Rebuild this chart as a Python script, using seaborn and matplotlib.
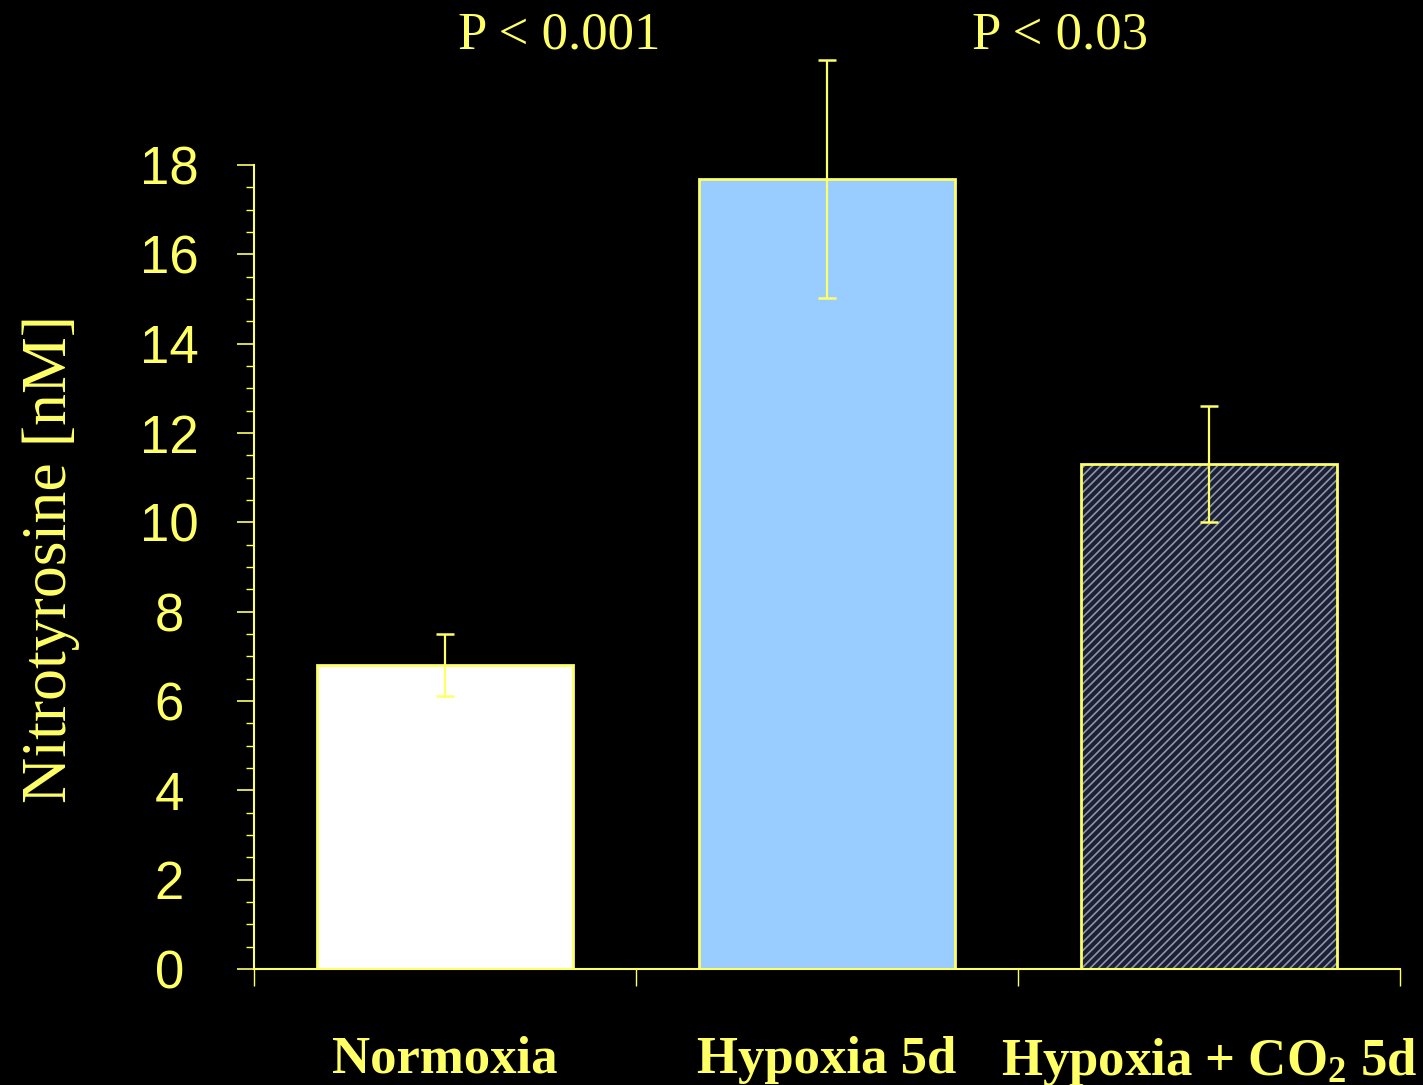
import matplotlib
matplotlib.use("Agg")
import matplotlib.pyplot as plt
import seaborn as sns
import numpy as np
import pandas as pd
from matplotlib.ticker import MultipleLocator, FixedLocator

categories = ["Normoxia", "Hypoxia 5d", "Hypoxia + CO$_2$ 5d"]
values = [6.81, 17.69, 11.31]
errors = [0.70, 2.67, 1.30]
bar_colors = ["#FFFFFF", "#99CCFF", "#1C2034"]
p_labels = ["P < 0.001", "P < 0.03"]
p_x = [0.30, 1.61]
p_y = [20.9, 20.9]
y_ticks = [0, 2, 4, 6, 8, 10, 12, 14, 16, 18]

YEL = "#FFFF66"

sns.set_style("dark")
plt.rcParams.update({
    "font.family": ["Liberation Sans", "DejaVu Sans"],
    "mathtext.fontset": "custom",
    "mathtext.rm": "Liberation Serif:bold",
    "mathtext.it": "Liberation Serif:bold",
    "mathtext.bf": "Liberation Serif:bold",
    "mathtext.default": "rm",
    "hatch.linewidth": 1.2,
})

fig = plt.figure(figsize=(14.23, 10.85), dpi=100, facecolor="black")
ax = fig.add_axes([0.1785, 0.1069, 0.8053, 0.7410])
ax.set_facecolor("black")

df = pd.DataFrame({"cat": categories, "val": values})
sns.barplot(data=df, x="cat", y="val", hue="cat", palette=bar_colors,
            saturation=1, legend=False, width=0.67, edgecolor="#8E96AC",
            linewidth=0, ax=ax, zorder=2)
# hatch on the third bar
p3 = ax.patches[2]
p3.set_hatch("////")
p3.set_edgecolor("#8E96AC")
p3.set_linewidth(0)

# yellow outlines drawn from the same data
xs = np.arange(len(categories))
ax.bar(xs, values, width=0.67, fill=False, edgecolor=YEL, linewidth=2.0, zorder=3)

ax.errorbar(xs, values, yerr=errors, fmt="none", ecolor=YEL, elinewidth=1.6,
            capsize=6.5, capthick=1.8, zorder=4, clip_on=False)

ax.set_xlim(-0.5, 2.5)
ax.set_ylim(0, 18)
ax.set_yticks(y_ticks)
ax.yaxis.set_minor_locator(MultipleLocator(0.5))
ax.xaxis.set_minor_locator(FixedLocator([-0.5, 0.5, 1.5, 2.5]))

for s in ["top", "right"]:
    ax.spines[s].set_visible(False)
for s in ["left", "bottom"]:
    ax.spines[s].set_visible(True)
    ax.spines[s].set_color(YEL)
    ax.spines[s].set_linewidth(1.5)
ax.grid(False)

ax.tick_params(axis="y", which="major", direction="out", length=12, width=1.2,
               color=YEL, labelcolor=YEL, labelsize=38, pad=49, left=True)
ax.tick_params(axis="y", which="minor", direction="out", length=6, width=1.0,
               color=YEL, left=True)
for lab in ax.get_yticklabels():
    lab.set_horizontalalignment("center")
ax.tick_params(axis="x", which="major", length=0, pad=48, labelcolor=YEL, bottom=True)
ax.tick_params(axis="x", which="minor", direction="out", length=12, width=1.0,
               color=YEL, bottom=True)
for lab in ax.get_xticklabels():
    lab.set_fontfamily("Liberation Serif")
    lab.set_fontweight("bold")
    lab.set_fontsize(38)
ax.set_xlabel("")
ax.set_ylabel("Nitrotyrosine [nM]", fontfamily="Liberation Serif", fontsize=46,
              color=YEL)
ax.yaxis.set_label_coords(-0.152, 0.51)

for t, x, y in zip(p_labels, p_x, p_y):
    ax.text(x, y, t, ha="center", va="center", fontfamily="Liberation Serif",
            fontsize=38, color=YEL, clip_on=False)

fig.savefig("out.png", dpi=100, facecolor="black")
